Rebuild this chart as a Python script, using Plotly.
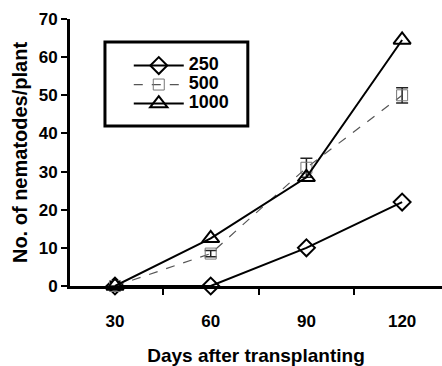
import plotly.graph_objects as go

days = [30, 60, 90, 120]
s250 = [0, 0, 10, 22]
s500 = [0, 8.5, 31, 50]
s500_err = [0, 0.8, 2.5, 2]
s1000 = [0, 12.5, 28.5, 64.5]
yticks = [0, 10, 20, 30, 40, 50, 60, 70]
names = ["250", "500", "1000"]

fam = "Liberation Sans, Arial, sans-serif"
font = dict(family=fam, color="black", size=16, weight="bold")


def lname(t):
    return "<span style='font-size:18px'>" + t + "</span>"


fig = go.Figure()
fig.add_trace(go.Scatter(
    x=days, y=s250, name=lname(names[0]), mode="lines+markers",
    line=dict(color="black", width=2),
    marker=dict(symbol="diamond-open", size=13, color="black", line=dict(width=2)),
    cliponaxis=False))
fig.add_trace(go.Scatter(
    x=days, y=s500, name=lname(names[1]), mode="lines+markers",
    line=dict(color="#555555", width=1.2, dash="dash"),
    marker=dict(symbol="square-open", size=11, color="#777777", line=dict(width=1)),
    error_y=dict(type="data", array=s500_err, color="#222222", thickness=1.5, width=6),
    cliponaxis=False))
fig.add_trace(go.Scatter(
    x=days, y=s1000, name=lname(names[2]), mode="lines+markers",
    line=dict(color="black", width=2),
    marker=dict(symbol="triangle-up-open", size=15, color="black", line=dict(width=2)),
    cliponaxis=False))

# legend frame
fig.add_shape(type="rect", xref="paper", yref="paper",
              x0=0.094, x1=0.478, y0=0.599, y1=0.914,
              line=dict(color="black", width=3), fillcolor="rgba(0,0,0,0)")

fig.update_layout(
    width=442, height=366,
    margin=dict(l=70, r=0, t=19, b=80, autoexpand=False),
    paper_bgcolor="white", plot_bgcolor="white",
    font=font,
    showlegend=True,
    legend=dict(x=0.158, y=0.88, xanchor="left", yanchor="top",
                borderwidth=0, bgcolor="rgba(0,0,0,0)",
                font=dict(family=fam, size=11, color="black", weight="bold"),
                itemwidth=50, tracegroupgap=0),
)
fig.update_xaxes(
    range=[15.9, 132.5], tickmode="array", tickvals=days, ticktext=[str(d) for d in days],
    ticks="", showgrid=False, zeroline=False, automargin=False,
    showline=True, linecolor="black", linewidth=3,
    tickfont=dict(size=17), ticklabelstandoff=18,
    minor=dict(tick0=15, dtick=30, ticks="outside", ticklen=6, tickwidth=2, tickcolor="black", showgrid=False),
    title=dict(text="Days after transplanting", standoff=19, font=dict(size=19)),
)
fig.update_yaxes(
    range=[0, 70], tickmode="array", tickvals=yticks,
    ticks="outside", ticklen=6, tickwidth=2, tickcolor="black",
    showgrid=False, zeroline=False, automargin=False,
    showline=True, linecolor="black", linewidth=3,
    tickfont=dict(size=17),
    title=dict(text="No. of nematodes/plant", standoff=6, font=dict(size=20)),
)

fig.write_html("out.html", config={"displayModeBar": False},
               post_script="document.body.style.margin='0';")
